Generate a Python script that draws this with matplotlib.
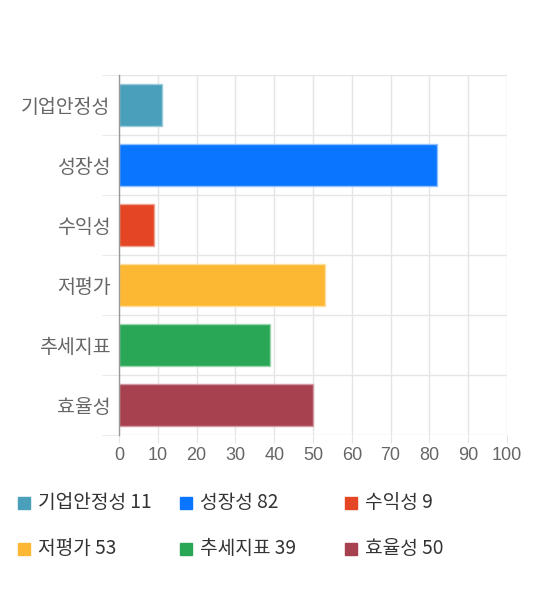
import matplotlib
matplotlib.use("Agg")
import matplotlib.pyplot as plt
from matplotlib.patches import Rectangle

categories = ["기업안정성", "성장성", "수익성", "저평가", "추세지표", "효율성"]
values = [11, 82, 9, 53, 39, 50]
colors = ["#4aa0ba", "#0a76ff", "#e34525", "#fdb833", "#29a757", "#a8414f"]
edge_colors = ["#9ccbdb", "#8fc0ff", "#f0a393", "#fde0a0", "#9ad6ae", "#d19aa2"]
xticks = list(range(0, 101, 10))

plt.rcParams["font.family"] = ["Noto Sans CJK KR", "DejaVu Sans"]

fig = plt.figure(figsize=(5.4, 5.9), dpi=100)
ax = fig.add_axes([119 / 540, 1 - 435 / 590, 388 / 540, 360 / 590])

ypos = list(range(len(categories)))
ax.barh(ypos, values, height=0.7, color=colors, edgecolor=edge_colors, linewidth=1, zorder=3)

ax.set_xlim(0, 100)
ax.set_ylim(len(categories) - 0.5, -0.5)
ax.set_xticks(xticks)
ax.set_xticklabels([str(t) for t in xticks], family=["Liberation Sans", "DejaVu Sans"])
ax.set_yticks(ypos)
ax.set_yticklabels(categories)
ax.set_yticks([i - 0.5 for i in range(len(categories) + 1)], minor=True)

grid_c = "#e5e5e5"
ax.grid(True, axis="x", which="major", color=grid_c, linewidth=1, zorder=0)
ax.grid(True, axis="y", which="minor", color=grid_c, linewidth=1, zorder=0)
ax.tick_params(axis="x", which="major", length=6, color=grid_c, labelsize=13, labelcolor="#666666", pad=3)
ax.tick_params(axis="y", which="major", length=0, labelsize=14, labelcolor="#666666", pad=6)
ax.tick_params(axis="y", which="minor", length=12, color=grid_c)

for s in ["top", "right", "bottom"]:
    ax.spines[s].set_visible(False)
ax.spines["left"].set_color("#999999")
ax.spines["left"].set_linewidth(1)
ax.spines["left"].set_zorder(4)

# legend
col_x = [18, 180, 345]
row_y = [503, 549]
for i, (cat, val, col) in enumerate(zip(categories, values, colors)):
    x = col_x[i % 3]
    y = row_y[i // 3]
    fig.patches.append(Rectangle((x / 540, 1 - (y + 6) / 590), 12 / 540, 12 / 590,
                                 transform=fig.transFigure, color=col))
    fig.text((x + 20) / 540, 1 - y / 590, f"{cat} {val}", fontsize=13.8,
             color="#333333", va="center", ha="left")

fig.savefig("out.png", dpi=100)
